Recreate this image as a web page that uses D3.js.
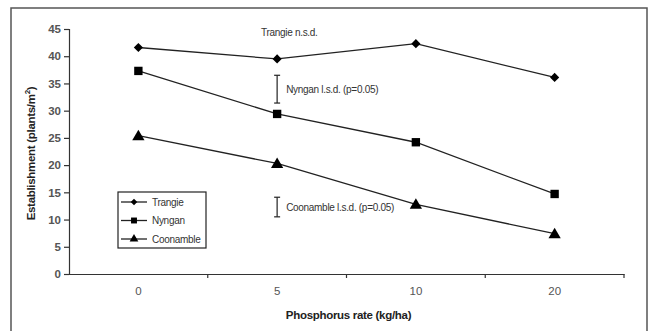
<!DOCTYPE html>
<html><head><meta charset="utf-8">
<script src="https://cdn.jsdelivr.net/npm/d3@7"></script>
<style>body{margin:0;background:#fff}svg{display:block;font-family:"Liberation Sans",Arial,sans-serif}</style>
</head><body>
<svg id="c" width="649" height="331"></svg>
<script>
const categories = ["0", "5", "10", "20"];
const trangie = [41.6, 39.5, 42.3, 36.1];
const nyngan = [37.3, 29.4, 24.2, 14.7];
const coonamble = [25.4, 20.3, 12.8, 7.4];
const yTicks = [0, 5, 10, 15, 20, 25, 30, 35, 40, 45];
const seriesNames = ["Trangie", "Nyngan", "Coonamble"];
const lsdNyngan = {cat: "5", lo: 31.4, hi: 36.5, label: "Nyngan l.s.d. (p=0.05)"};
const lsdCoon = {cat: "5", lo: 10.5, hi: 14.1, label: "Coonamble l.s.d. (p=0.05)"};
const nsdLabel = "Trangie n.s.d.";

const svg = d3.select("#c");
const L = 69, R = 624, T = 29, B = 274;
const x = d3.scaleBand().domain(categories).range([L, R]);
const y = d3.scaleLinear().domain([0, 45]).range([B, T]);

// outer border
svg.append("rect").attr("x", 11).attr("y", 8).attr("width", 636).attr("height", 340)
  .attr("fill", "none").attr("stroke", "#555").attr("stroke-width", 1.5);

// y axis
const ya = svg.append("g").attr("transform", `translate(${L},0)`)
  .call(d3.axisLeft(y).tickValues(yTicks).tickSize(5).tickPadding(3));
ya.selectAll("path,line").attr("stroke", "#333").attr("stroke-width", 1.2);
ya.selectAll("text").attr("font-size", 11.5).attr("fill", "#555").attr("font-family", "Liberation Sans, Arial, sans-serif").attr("font-weight", "bold");

// x axis
const xa = svg.append("g").attr("transform", `translate(0,${B})`)
  .call(d3.axisBottom(x).tickSize(0).tickPadding(13));
xa.select("path").attr("stroke", "#333").attr("stroke-width", 1.2);
xa.selectAll("text").attr("font-size", 11.5).attr("fill", "#555").attr("font-family", "Liberation Sans, Arial, sans-serif");
// boundary ticks
const bounds = categories.map(c => x(c) + x.bandwidth());
svg.append("g").selectAll("line").data(bounds).join("line")
  .attr("x1", d => d).attr("x2", d => d).attr("y1", B).attr("y2", B + 4)
  .attr("stroke", "#333").attr("stroke-width", 1.2);

// axis titles
svg.append("text").attr("x", (L + R) / 2 + 2).attr("y", 319).attr("text-anchor", "middle")
  .attr("font-size", 11.5).attr("font-weight", "bold").attr("fill", "#222").attr("letter-spacing", -0.3).text("Phosphorus rate (kg/ha)");
const yt = svg.append("text").attr("transform", `translate(35,${(T + B) / 2 + 2}) rotate(-90)`)
  .attr("text-anchor", "middle").attr("font-size", 11.5).attr("font-weight", "bold").attr("fill", "#222").attr("letter-spacing", -0.3);
yt.append("tspan").text("Establishment (plants/m");
yt.append("tspan").attr("font-size", 8).attr("dy", -5).text("2");
yt.append("tspan").attr("dy", 5).text(")");

const cx = c => x(c) + x.bandwidth() / 2;
const symbols = [d3.symbolSquare, d3.symbolSquare, d3.symbolTriangle];
const rot = [45, 0, 0];
const sizes = [42, 70, 65];
const all = [trangie, nyngan, coonamble];
const line = d3.line().x((d, i) => cx(categories[i])).y(d => y(d));
all.forEach((vals, k) => {
  svg.append("path").attr("d", line(vals)).attr("fill", "none").attr("stroke", "#222").attr("stroke-width", 1.3);
  svg.append("g").selectAll("path").data(vals).join("path")
    .attr("transform", (d, i) => `translate(${cx(categories[i])},${y(d) + (k === 2 ? 1 : 0)}) rotate(${rot[k]})`)
    .attr("d", d3.symbol(symbols[k], sizes[k])).attr("fill", "#000");
});

// LSD bars
[lsdNyngan, lsdCoon].forEach(b => {
  const bx = cx(b.cat);
  const g = svg.append("g").attr("stroke", "#222").attr("stroke-width", 1.2);
  g.append("line").attr("x1", bx).attr("x2", bx).attr("y1", y(b.hi)).attr("y2", y(b.lo));
  g.append("line").attr("x1", bx - 3).attr("x2", bx + 3).attr("y1", y(b.hi)).attr("y2", y(b.hi));
  g.append("line").attr("x1", bx - 3).attr("x2", bx + 3).attr("y1", y(b.lo)).attr("y2", y(b.lo));
  svg.append("text").attr("x", bx + 9).attr("y", (y(b.hi) + y(b.lo)) / 2 + 4)
    .attr("font-size", 10).attr("fill", "#333").attr("letter-spacing", -0.3).text(b.label);
});
svg.append("text").attr("x", 261).attr("y", 36).attr("font-size", 10).attr("fill", "#333")
  .attr("letter-spacing", -0.3).text(nsdLabel);

// legend
const lg = svg.append("g");
lg.append("rect").attr("x", 118).attr("y", 192).attr("width", 88).attr("height", 56)
  .attr("fill", "#fff").attr("stroke", "#222").attr("stroke-width", 1.2);
seriesNames.forEach((n, k) => {
  const ly = 202 + k * 18.5;
  lg.append("line").attr("x1", 121).attr("x2", 147).attr("y1", ly).attr("y2", ly).attr("stroke", "#222").attr("stroke-width", 1.3);
  lg.append("path").attr("transform", `translate(134,${ly}) rotate(${rot[k]})`).attr("d", d3.symbol(symbols[k], sizes[k] * 0.5)).attr("fill", "#000");
  lg.append("text").attr("x", 152).attr("y", ly + 3.5).attr("font-size", 10).attr("fill", "#333")
    .attr("letter-spacing", -0.3).text(n);
});
</script>
</body></html>
